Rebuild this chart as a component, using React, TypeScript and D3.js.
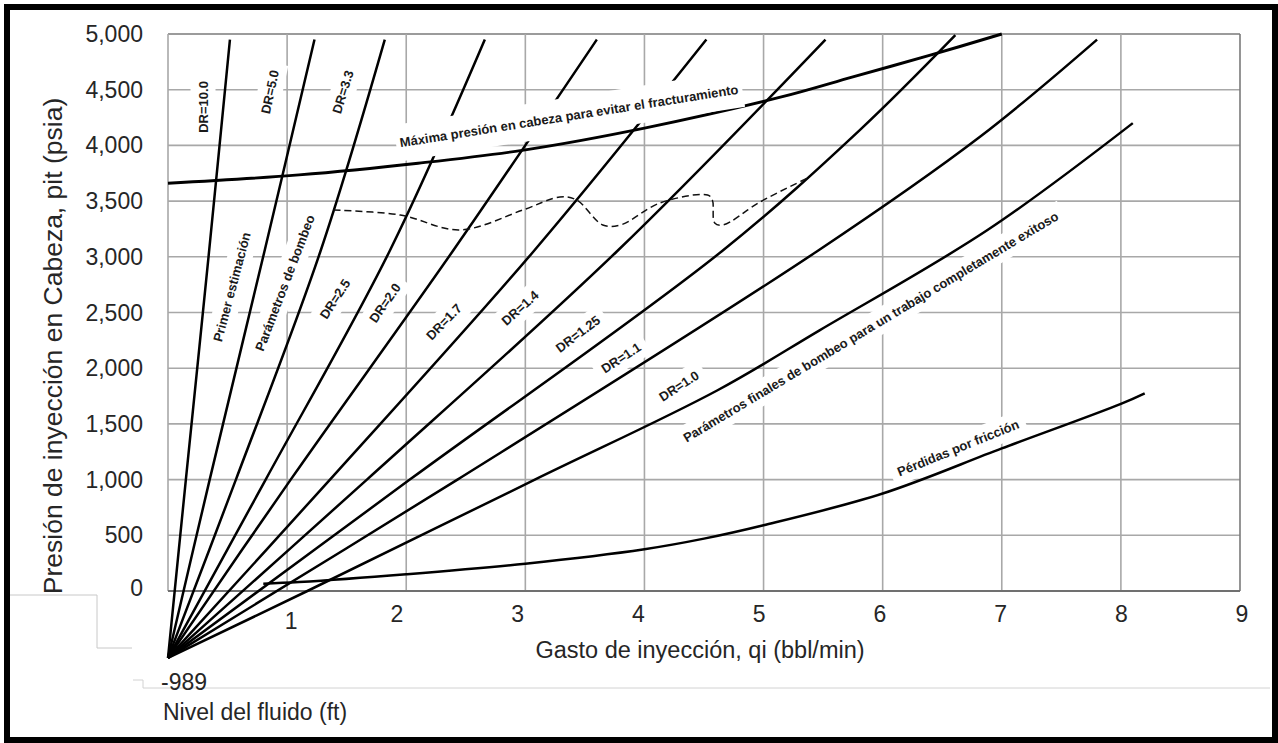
import React, { useEffect, useRef } from 'react';
import * as d3 from 'd3';

type Pt = [number, number];

const W = 1278;
const H = 743;

// Axis ticks
const X_TICKS = [1, 2, 3, 4, 5, 6, 7, 8, 9];
const X_GRID = [0, 1, 2, 3, 4, 5, 6, 7, 8, 9];
const Y_TICKS = [0, 500, 1000, 1500, 2000, 2500, 3000, 3500, 4000, 4500, 5000];
const Y_TICK_LABELS = ['0', '500', '1,000', '1,500', '2,000', '2,500', '3,000', '3,500', '4,000', '4,500', '5,000'];

// Fan of DR lines (q bbl/min, p psia); they start at the fluid-level point below zero
const DR_10_0: Pt[] = [[0, -600], [0.15, 1000], [0.345, 3050], [0.52, 4950]];
const DR_5_0: Pt[] = [[0, -600], [0.35, 1000], [0.81, 3050], [1.23, 4950]];
const DR_3_3: Pt[] = [[0, -600], [0.57, 1000], [1.28, 3050], [1.82, 4950]];
const DR_2_5: Pt[] = [[0, -600], [0.82, 1000], [1.86, 3050], [2.66, 4950]];
const DR_2_0: Pt[] = [[0, -600], [1.03, 1000], [2.39, 3050], [3.6, 4950]];
const DR_1_7: Pt[] = [[0, -600], [1.36, 1000], [3.07, 3050], [4.52, 4950]];
const DR_1_4: Pt[] = [[0, -600], [1.67, 1000], [3.77, 3050], [5.52, 4950]];
const DR_1_25: Pt[] = [[0, -600], [2.03, 1000], [4.65, 3050], [5.81, 4140], [6.61, 4990]];
const DR_1_1: Pt[] = [[0, -600], [2.43, 1000], [5.45, 3050], [6.82, 4080], [7.8, 4950]];
const DR_1_0: Pt[] = [[0, -600], [1.17, 0], [3.08, 1000], [4.61, 1800], [5.47, 2340], [6.88, 3240], [8.1, 4200]];

const FAN_LINES: Pt[][] = [DR_10_0, DR_5_0, DR_3_3, DR_2_5, DR_2_0, DR_1_7, DR_1_4, DR_1_25, DR_1_1, DR_1_0];

// Maximum head pressure to avoid fracturing
const MAX_PRESSURE: Pt[] = [[0, 3660], [1.1, 3735], [2.1, 3840], [3.0, 3960], [4.0, 4155], [5.15, 4435], [5.75, 4615], [6.4, 4810], [7.0, 5000]];

// Friction losses
const FRICTION: Pt[] = [[0.8, 65], [1.1, 80], [2.0, 150], [3.0, 245], [4.0, 375], [4.5, 470], [5.0, 590], [6.0, 875], [7.0, 1280], [8.0, 1680], [8.2, 1775]];

// Recorded pressure (dashed)
const RECORDED: Pt[] = [
  [1.39, 3420], [1.95, 3375], [2.45, 3241], [2.98, 3420], [3.29, 3537], [3.43, 3510],
  [3.65, 3286], [3.8, 3286], [4.13, 3483], [4.53, 3555], [4.57, 3510], [4.59, 3304],
  [4.66, 3286], [4.97, 3492], [5.37, 3707],
];

// Annotations anchored in data coordinates
const ANNOTATIONS = [
  { text: 'DR=10.0', q: 0.294, p: 4345, angle: -90 },
  { text: 'DR=5.0', q: 0.856, p: 4480, angle: -78 },
  { text: 'DR=3.3', q: 1.469, p: 4480, angle: -73 },
  { text: 'Primer  estimación', q: 0.537, p: 2729, angle: -75 },
  { text: 'Parámetros  de  bombeo', q: 0.982, p: 2765, angle: -69 },
  { text: 'DR=2.5', q: 1.402, p: 2621, angle: -57 },
  { text: 'DR=2.0', q: 1.822, p: 2585, angle: -55 },
  { text: 'DR=1.7', q: 2.317, p: 2415, angle: -46 },
  { text: 'DR=1.4', q: 2.956, p: 2540, angle: -42 },
  { text: 'DR=1.25', q: 3.442, p: 2307, angle: -37 },
  { text: 'DR=1.1', q: 3.804, p: 2092, angle: -33 },
  { text: 'DR=1.0', q: 4.29, p: 1840, angle: -33 },
  { text: 'Parámetros  finales  de bombeo  para un trabajo completamente exitoso', q: 5.9, p: 2370, angle: -31 },
  { text: 'Pérdidas  por fricción', q: 6.633, p: 1284, angle: -22 },
];
const MAX_LABEL = { text: 'Máxima  presión  en cabeza  para  evitar  el  fracturamiento', q: 3.367, p: 4264, angle: -9 };

const FONT = "'Liberation Sans', Arial, Helvetica, sans-serif";

export default function App() {
  const ref = useRef<SVGSVGElement>(null);

  useEffect(() => {
    document.body.style.margin = '0';
    const svg = d3.select(ref.current as SVGSVGElement);
    svg.selectAll('*').remove();

    const x = d3.scaleLinear().domain([0, 9]).range([168, 1240]);
    const y = d3.scaleLinear().domain([0, 5000]).range([591, 34]);
    const xLab = d3.scaleLinear().domain([2, 9]).range([397, 1242]);

    svg.append('rect').attr('width', W).attr('height', H).attr('fill', '#fff');

    const gridG = svg.append('g');
    const boxG = svg.append('g');
    const axisG = svg.append('g');
    const curveG = svg.append('g');
    const maxBoxG = svg.append('g');
    const labelG = svg.append('g');
    const textG = svg.append('g').style('font-family', FONT);
    const frameG = svg.append('g');

    // grid
    Y_TICKS.forEach((v) => {
      gridG.append('line')
        .attr('x1', x(0)).attr('x2', x(9)).attr('y1', y(v)).attr('y2', y(v))
        .attr('stroke', v === 5000 ? '#7a7a7a' : '#a8a8a8').attr('stroke-width', 1.6);
    });
    X_GRID.forEach((v) => {
      gridG.append('line')
        .attr('x1', x(v)).attr('x2', x(v)).attr('y1', y(0)).attr('y2', y(5000))
        .attr('stroke', v === 9 ? '#7a7a7a' : '#a8a8a8').attr('stroke-width', 1.6);
    });

    // bottom axis
    axisG.append('line')
      .attr('x1', x(0)).attr('x2', x(9)).attr('y1', y(0)).attr('y2', y(0))
      .attr('stroke', '#707070').attr('stroke-width', 2.2);

    // faint guide lines from the scan
    axisG.append('path').attr('d', 'M10,595H97V648H132').attr('fill', 'none').attr('stroke', '#c8c8c8').attr('stroke-width', 1);
    axisG.append('path').attr('d', 'M133,680H143V688H1270').attr('fill', 'none').attr('stroke', '#d2d2d2').attr('stroke-width', 1);

    const line = d3.line<Pt>()
      .x((d) => x(d[0]))
      .y((d) => y(d[1]))
      .curve(d3.curveCatmullRom.alpha(0.5));

    FAN_LINES.forEach((pts) => {
      curveG.append('path').attr('d', line(pts) as string)
        .attr('fill', 'none').attr('stroke', '#000').attr('stroke-width', 2.5);
    });
    curveG.append('path').attr('d', line(FRICTION) as string)
      .attr('fill', 'none').attr('stroke', '#000').attr('stroke-width', 2.5);
    curveG.append('path').attr('d', line(RECORDED) as string)
      .attr('fill', 'none').attr('stroke', '#111').attr('stroke-width', 1.5).attr('stroke-dasharray', '7,4');
    curveG.append('path').attr('d', line(MAX_PRESSURE) as string)
      .attr('fill', 'none').attr('stroke', '#000').attr('stroke-width', 2.9);

    const drawLabel = (a: { text: string; q: number; p: number; angle: number }, bg: any, padAlong: number, padAcross: number) => {
      const g = labelG.append('g').attr('transform', `translate(${x(a.q)},${y(a.p)}) rotate(${a.angle})`);
      const t = g.append('text')
        .attr('text-anchor', 'middle').attr('dominant-baseline', 'central')
        .style('font-family', FONT).style('font-weight', 'bold').style('font-size', '13px')
        .attr('fill', '#1a1a1a').text(a.text);
      const bb = (t.node() as SVGTextElement).getBBox();
      bg.append('rect')
        .attr('transform', `translate(${x(a.q)},${y(a.p)}) rotate(${a.angle})`)
        .attr('x', bb.x - padAlong).attr('y', bb.y - padAcross)
        .attr('width', bb.width + 2 * padAlong).attr('height', bb.height + 2 * padAcross)
        .attr('fill', '#fff');
    };
    ANNOTATIONS.forEach((a) => drawLabel(a, boxG, 7, 5));
    drawLabel(MAX_LABEL, maxBoxG, 4, 11);

    // y tick labels
    Y_TICKS.forEach((v, i) => {
      textG.append('text')
        .attr('x', 143).attr('y', y(v) - (v === 0 ? 3 : 0))
        .attr('text-anchor', 'end').attr('dominant-baseline', 'central')
        .style('font-size', '23px').attr('fill', '#262626')
        .text(Y_TICK_LABELS[i]);
    });
    // x tick labels
    X_TICKS.forEach((v) => {
      textG.append('text')
        .attr('x', v === 1 ? x(1) + 4 : xLab(v)).attr('y', v === 1 ? 621 : 614)
        .attr('text-anchor', 'middle').attr('dominant-baseline', 'central')
        .style('font-size', '23px').attr('fill', '#262626')
        .text(String(v));
    });

    textG.append('text')
      .attr('x', 700).attr('y', 658)
      .attr('text-anchor', 'middle')
      .style('font-size', '23.5px').attr('fill', '#262626')
      .text('Gasto de inyección, qi (bbl/min)');

    textG.append('text')
      .attr('transform', 'translate(62,346) rotate(-90)')
      .attr('text-anchor', 'middle')
      .style('font-size', '26.5px').attr('fill', '#262626')
      .text('Presión de inyección en Cabeza, pit (psia)');

    textG.append('text')
      .attr('x', 161).attr('y', 690)
      .style('font-size', '23px').attr('fill', '#262626')
      .text('-989');
    textG.append('text')
      .attr('x', 163).attr('y', 720)
      .style('font-size', '23px').attr('fill', '#262626')
      .text('Nivel del fluido (ft)');

    frameG.append('rect')
      .attr('x', 7).attr('y', 7).attr('width', 1268).attr('height', 733)
      .attr('fill', 'none').attr('stroke', '#000').attr('stroke-width', 6);
  }, []);

  return (
    <svg
      ref={ref}
      width={W}
      height={H}
      style={{ position: 'absolute', left: 0, top: 0, display: 'block' }}
    />
  );
}
